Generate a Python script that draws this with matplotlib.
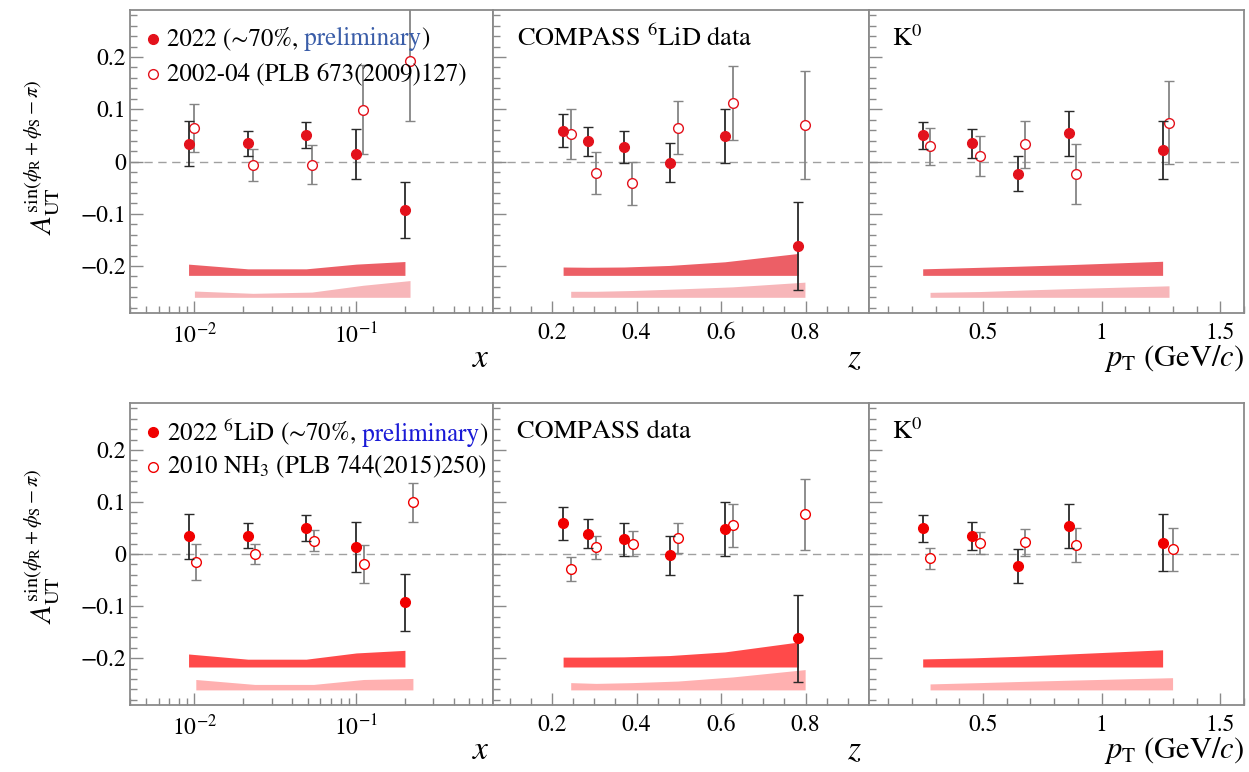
import numpy as np
import matplotlib
matplotlib.use("Agg")
import matplotlib.pyplot as plt
from matplotlib.ticker import MultipleLocator, FuncFormatter, LogLocator, NullFormatter

plt.rcParams['font.family'] = ['STIXGeneral', 'DejaVu Serif']
plt.rcParams['mathtext.fontset'] = 'stix'

# ---------------- x panel ----------------
x_22 = [0.0092, 0.0214, 0.049, 0.100, 0.200]
A_x_22 = [0.034, 0.035, 0.050, 0.014, -0.093]
dA_x_22 = [0.043, 0.024, 0.025, 0.048, 0.054]
sys_x_22_top = [0.0215, 0.0125, 0.0125, 0.0215, 0.0265]
sys_x_22_bot = [0.025, 0.015, 0.015, 0.027, 0.032]

x_0204 = [0.0100, 0.0230, 0.0532, 0.110, 0.215]
A_x_0204 = [0.064, -0.007, -0.006, 0.099, 0.193]
dA_x_0204 = [0.046, 0.030, 0.038, 0.085, 0.116]
sys_x_0204 = [0.012, 0.0076, 0.010, 0.023, 0.032]

x_2010 = [0.0102, 0.0236, 0.0545, 0.111, 0.224]
A_x_2010 = [-0.015, 0.000, 0.026, -0.019, 0.100]
dA_x_2010 = [0.0345, 0.0185, 0.0205, 0.0357, 0.0375]
sys_x_2010 = [0.020, 0.0105, 0.0105, 0.020, 0.022]

# ---------------- z panel ----------------
z_22 = [0.226, 0.286, 0.370, 0.478, 0.609, 0.783]
A_z_22 = [0.059, 0.039, 0.028, -0.002, 0.049, -0.162]
dA_z_22 = [0.032, 0.028, 0.031, 0.0375, 0.052, 0.084]
sys_z_22_top = [0.016, 0.0155, 0.016, 0.019, 0.026, 0.042]
sys_z_22_bot = [0.019, 0.019, 0.0195, 0.022, 0.029, 0.048]

z_0204 = [0.244, 0.3035, 0.390, 0.498, 0.6275, 0.7985]
A_z_0204 = [0.052, -0.022, -0.042, 0.065, 0.1115, 0.070]
dA_z_0204 = [0.048, 0.040, 0.041, 0.051, 0.071, 0.103]
sys_z_0204 = [0.0115, 0.0115, 0.013, 0.016, 0.020, 0.029]

z_2010 = [0.244, 0.304, 0.3905, 0.4977, 0.629, 0.799]
A_z_2010 = [-0.029, 0.0128, 0.0198, 0.0307, 0.055, 0.0767]
dA_z_2010 = [0.0236, 0.0223, 0.024, 0.0294, 0.041, 0.068]
sys_z_2010 = [0.014, 0.0125, 0.014, 0.017, 0.025, 0.039]

# ---------------- pT panel ----------------
pt_22 = [0.246, 0.454, 0.649, 0.8605, 1.257]
A_pt_22 = [0.050, 0.035, -0.023, 0.054, 0.022]
dA_pt_22 = [0.026, 0.0275, 0.033, 0.043, 0.055]
sys_pt_22_top = [0.0125, 0.015, 0.0175, 0.0205, 0.027]
sys_pt_22_bot = [0.0155, 0.0175, 0.0205, 0.025, 0.033]

pt_0204 = [0.277, 0.486, 0.678, 0.891, 1.284]
A_pt_0204 = [0.029, 0.011, 0.033, -0.024, 0.0746]
dA_pt_0204 = [0.036, 0.0385, 0.0455, 0.058, 0.079]
sys_pt_0204 = [0.0095, 0.011, 0.014, 0.017, 0.022]

pt_2010 = [0.277, 0.486, 0.678, 0.894, 1.299]
A_pt_2010 = [-0.0083, 0.0217, 0.0224, 0.0179, 0.0089]
dA_pt_2010 = [0.0205, 0.0207, 0.0256, 0.033, 0.0415]
sys_pt_2010 = [0.0115, 0.014, 0.0165, 0.019, 0.0235]

# row styles
row_style = [
    dict(pt='#e3121c', dark='#ec5f66', light='#f7b6b9', prelim='#3a5da8',
         base_dark=-0.218, base_light=-0.260),
    dict(pt='#f00000', dark='#ff4a4a', light='#ffb0b0', prelim='#1a1ad6',
         base_dark=-0.217, base_light=-0.261),
]

FS_TICK = 17
FS_TXT = 18
FS_AX = 22
FRAME = '#8a8a8a'


def yfmt(v, pos):
    if abs(v) < 1e-9:
        return '0'
    return ('%g' % v).replace('-', '\u2212')


def draw(ax, st, xn, an, en, sn, xo, ao, eo, so):
    ax.axhline(0, color='#a0a0a0', lw=1.0, ls=(0, (6, 4)), zorder=1)
    ax.fill_between(xn, st['base_dark'], np.array(sn) + st['base_dark'],
                    color=st['dark'], lw=0, zorder=2)
    ax.fill_between(xo, st['base_light'], np.array(so) + st['base_light'],
                    color=st['light'], lw=0, zorder=2)
    ax.errorbar(xo, ao, yerr=eo, fmt='o', ms=7, mfc='white', mec=st['pt'],
                mew=1.0, ecolor='#858585', elinewidth=1.3, capsize=3.5,
                capthick=1.0, zorder=3)
    ax.errorbar(xn, an, yerr=en, fmt='o', ms=7, mfc=st['pt'], mec=st['pt'],
                ecolor='#2a2a2a', elinewidth=1.3, capsize=3.5, capthick=1.0,
                zorder=4)
    ax.set_ylim(-0.29, 0.29)
    ax.yaxis.set_major_locator(MultipleLocator(0.1))
    ax.yaxis.set_minor_locator(MultipleLocator(0.02))
    ax.yaxis.set_major_formatter(FuncFormatter(yfmt))
    ax.tick_params(which='both', direction='in', top=False, right=False,
                   colors=FRAME, labelcolor='black', labelsize=FS_TICK)
    ax.tick_params(which='major', length=9, width=1.0)
    ax.tick_params(which='minor', length=5, width=1.0)
    ax.tick_params(axis='x', pad=7)
    ax.tick_params(axis='y', pad=3)
    for s in ax.spines.values():
        s.set_color(FRAME)
        s.set_linewidth(1.3)


def legend(ax, st, lab1_pre, lab2, y1, y2):
    ax.plot([0.063], [y1], 'o', ms=7, color=st['pt'], transform=ax.transAxes,
            clip_on=False)
    ax.plot([0.063], [y2], 'o', ms=7, mfc='white', mec=st['pt'], mew=1.0,
            transform=ax.transAxes, clip_on=False)
    t = ax.text(0.102, y1, lab1_pre, transform=ax.transAxes, va='center',
                ha='left', fontsize=FS_TXT, zorder=6)
    t2 = ax.annotate(' preliminary', xy=(1, 0), xycoords=t, va='bottom',
                     ha='left', fontsize=FS_TXT, color=st['prelim'], zorder=6)
    ax.annotate(')', xy=(1, 0), xycoords=t2, va='bottom', ha='left',
                fontsize=FS_TXT, zorder=6)
    ax.text(0.102, y2, lab2, transform=ax.transAxes, va='center', ha='left',
            fontsize=FS_TXT, zorder=6)


fig = plt.figure(figsize=(12.49, 7.72), dpi=100)
rows = [(0.5946, 0.3924), (0.0868, 0.3910)]
cols = [(0.1041, 0.2906), (0.3947, 0.3010), (0.6958, 0.3002)]
ylab_centers = [0.796, 0.293]

panel_data = [
    [(x_22, A_x_22, dA_x_22, sys_x_22_top, x_0204, A_x_0204, dA_x_0204, sys_x_0204),
     (z_22, A_z_22, dA_z_22, sys_z_22_top, z_0204, A_z_0204, dA_z_0204, sys_z_0204),
     (pt_22, A_pt_22, dA_pt_22, sys_pt_22_top, pt_0204, A_pt_0204, dA_pt_0204, sys_pt_0204)],
    [(x_22, A_x_22, dA_x_22, sys_x_22_bot, x_2010, A_x_2010, dA_x_2010, sys_x_2010),
     (z_22, A_z_22, dA_z_22, sys_z_22_bot, z_2010, A_z_2010, dA_z_2010, sys_z_2010),
     (pt_22, A_pt_22, dA_pt_22, sys_pt_22_bot, pt_2010, A_pt_2010, dA_pt_2010, sys_pt_2010)],
]
compass_txt = [r'COMPASS $^{6}$LiD data', 'COMPASS data']
leg1 = ['2022 (\u223c70%,', '2022 $^{6}$LiD (\u223c70%,']
leg2 = ['2002-04 (PLB 673(2009)127)', r'2010 NH$_3$ (PLB 744(2015)250)']
ylab = r'$A_{\rm UT}^{\sin(\phi_{\rm R}+\phi_{\rm S}-\pi)}$'

for r, (yb, h) in enumerate(rows):
    st = row_style[r]
    axes = []
    for c, (xl, w) in enumerate(cols):
        ax = fig.add_axes([xl, yb, w, h])
        draw(ax, st, *panel_data[r][c])
        axes.append(ax)
    ax1, ax2, ax3 = axes

    ax1.set_xscale('log')
    ax1.set_xlim(0.004, 0.70)
    ax1.xaxis.set_major_locator(LogLocator(base=10, numticks=10))
    ax1.xaxis.set_minor_locator(LogLocator(base=10, subs=np.arange(2, 10), numticks=20))
    ax1.xaxis.set_minor_formatter(NullFormatter())

    ax2.set_xlim(0.06, 0.95)
    ax2.xaxis.set_major_locator(MultipleLocator(0.2))
    ax2.xaxis.set_minor_locator(MultipleLocator(0.05))
    ax2.xaxis.set_major_formatter(FuncFormatter(lambda v, p: '%g' % v))

    ax3.set_xlim(0.02, 1.6)
    ax3.xaxis.set_major_locator(MultipleLocator(0.5))
    ax3.xaxis.set_minor_locator(MultipleLocator(0.1))
    ax3.xaxis.set_major_formatter(FuncFormatter(lambda v, p: '%g' % v))

    ax2.set_yticklabels([])
    ax3.set_yticklabels([])

    ax1.text(0.99, -0.18, '$x$', transform=ax1.transAxes, ha='right',
             va='baseline', fontsize=FS_AX + 2)
    ax2.text(0.98, -0.18, '$z$', transform=ax2.transAxes, ha='right',
             va='baseline', fontsize=FS_AX + 2)
    ax3.text(1.0, -0.175, r'$p_{\rm T}$ (GeV/$c$)', transform=ax3.transAxes,
             ha='right', va='baseline', fontsize=FS_AX)

    ax2.text(0.063, 0.905, compass_txt[r], transform=ax2.transAxes,
             va='center', ha='left', fontsize=FS_TXT + 1)
    ax3.text(0.06, 0.905, r'K$^{0}$', transform=ax3.transAxes,
             va='center', ha='left', fontsize=FS_TXT + 1)

    legend(ax1, st, leg1[r], leg2[r], 0.904, 0.789)

    fig.text(0.034, ylab_centers[r], ylab, rotation=90, ha='center',
             va='center', fontsize=21)

fig.savefig('out.png', dpi=100)
